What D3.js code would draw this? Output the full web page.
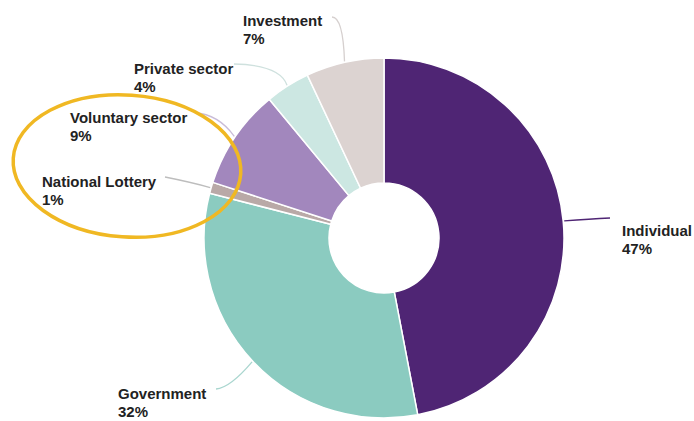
<!DOCTYPE html>
<html>
<head>
<meta charset="utf-8">
<script src="https://cdn.jsdelivr.net/npm/d3@7"></script>
<style>
  body { margin: 0; background: #fff; }
  svg text { font-family: "Liberation Sans", Arial, sans-serif; font-weight: bold; fill: #222; }
</style>
</head>
<body>
<div id="chart"></div>
<script>
(function() {
"use strict";

// data, clockwise from 12 o'clock
var categories = ["Individual", "Government", "National Lottery", "Voluntary sector", "Private sector", "Investment"];
var shares = [47, 32, 1, 9, 4, 7];
var colours = ["#4f2574", "#8bcbc0", "#b9a9a7", "#a287bd", "#cce7e2", "#dcd3d1"];
var lineColours = ["#4f2574", "#a9d6cf", "#bdbdbd", "#c9bcd8", "#cfe1de", "#d6d0cf"];

// where each label sits (left x, first baseline) and the leader's label end + bend
var labelPos = [
  {x: 622, y: 236, lx: 610, ly: 218, cx: 590, cy: 219},
  {x: 118, y: 399, lx: 216, ly: 389, cx: 230, cy: 388},
  {x: 42, y: 187, lx: 165, ly: 177, cx: 190, cy: 182},
  {x: 70, y: 123, lx: 195, ly: 113, cx: 218, cy: 114},
  {x: 134, y: 74, lx: 234, ly: 64, cx: 280, cy: 65},
  {x: 243, y: 26, lx: 332, ly: 17, cx: 343, cy: 17}
];

var width = 694, height = 421;
var cx = 384, cy = 238, outerR = 180, innerR = 55;

var svg = d3.select("#chart").append("svg")
  .attr("width", width)
  .attr("height", height);

var rows = categories.map(function(c, i) {
  return {name: c, value: shares[i], i: i};
});

var pie = d3.pie()
  .sort(null)
  .value(function(d) { return d.value; });

var arc = d3.arc()
  .innerRadius(innerR)
  .outerRadius(outerR);

var colour = d3.scaleOrdinal()
  .domain(categories)
  .range(colours);

var arcs = pie(rows);

var g = svg.append("g")
  .attr("transform", "translate(" + cx + "," + cy + ")");

g.selectAll("path.slice")
  .data(arcs)
  .enter()
  .append("path")
  .attr("class", "slice")
  .attr("d", arc)
  .attr("fill", function(d) { return colour(d.data.name); })
  .attr("stroke", "#fff")
  .attr("stroke-width", 1.5);

// leader lines from outer edge midpoint to label
svg.selectAll("path.leader")
  .data(arcs)
  .enter()
  .append("path")
  .attr("class", "leader")
  .attr("fill", "none")
  .attr("stroke", function(d) { return lineColours[d.data.i]; })
  .attr("stroke-width", 1.3)
  .attr("d", function(d) {
    var a = (d.startAngle + d.endAngle) / 2;
    var sx = cx + Math.sin(a) * (outerR + 1);
    var sy = cy - Math.cos(a) * (outerR + 1);
    var p = labelPos[d.data.i];
    var path = d3.path();
    path.moveTo(p.lx, p.ly);
    path.quadraticCurveTo(p.cx, p.cy, sx, sy);
    return path.toString();
  });

var labels = svg.selectAll("g.label")
  .data(arcs)
  .enter()
  .append("g")
  .attr("class", "label");

labels.append("text")
  .attr("x", function(d) { return labelPos[d.data.i].x; })
  .attr("y", function(d) { return labelPos[d.data.i].y; })
  .attr("font-size", 15)
  .text(function(d) { return d.data.name; });

labels.append("text")
  .attr("x", function(d) { return labelPos[d.data.i].x; })
  .attr("y", function(d) { return labelPos[d.data.i].y + 18; })
  .attr("font-size", 15)
  .text(function(d) { return d.data.value + "%"; });

// highlight ring round the small slices
svg.append("ellipse")
  .attr("cx", 127)
  .attr("cy", 166)
  .attr("rx", 114)
  .attr("ry", 71)
  .attr("transform", "rotate(4,127,166)")
  .attr("fill", "none")
  .attr("stroke", "#f0b823")
  .attr("stroke-width", 3.5);

})();
</script>
</body>
</html>
